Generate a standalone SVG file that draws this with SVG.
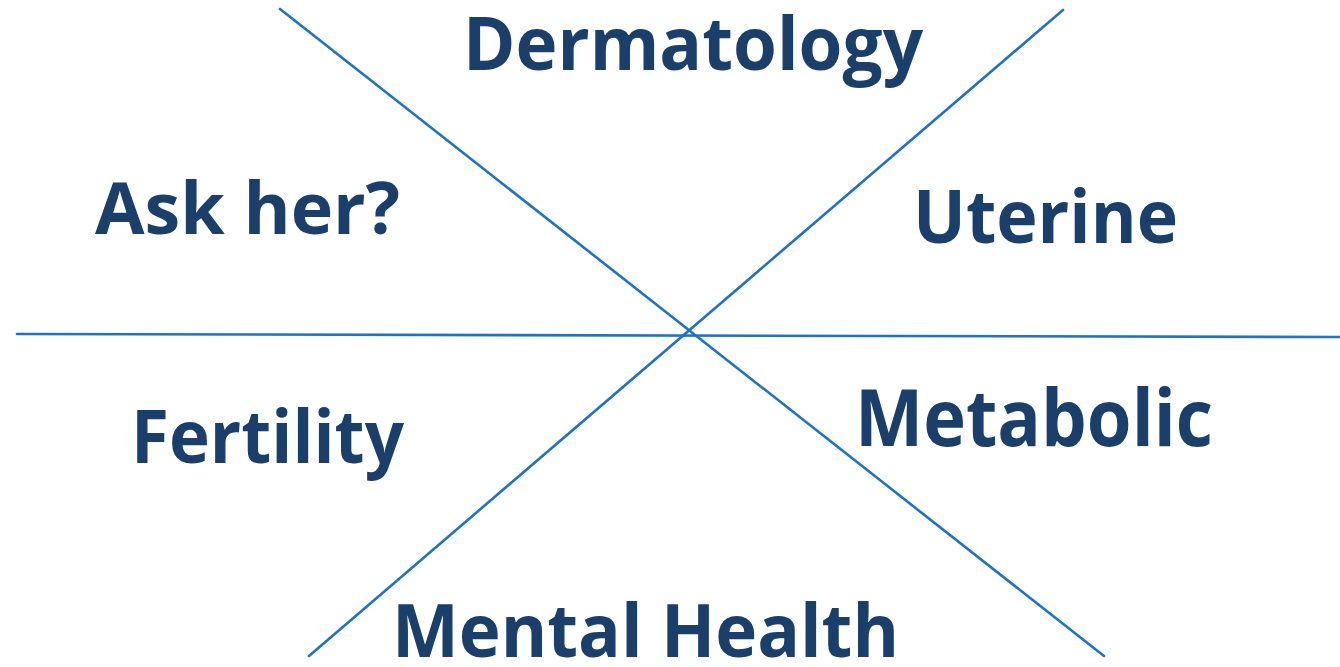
<svg xmlns="http://www.w3.org/2000/svg" width="1340" height="667" viewBox="0 0 1340 667">
  <style>
    .axis { stroke: #1F72C6; stroke-width: 2.6; fill: none; stroke-linecap: round; }
    .label { font-family: "Open Sans", "Liberation Sans", sans-serif; font-weight: 700; fill: #1A3F6B; }
  </style>
  <rect width="1340" height="667" fill="#FFFFFF"/>
  <!-- three dividing axes crossing near the centre -->
  <g id="connectors">
    <line class="axis" x1="280" y1="9" x2="1104" y2="656"/>
    <line class="axis" x1="1063" y1="10" x2="309" y2="656"/>
    <line class="axis" x1="17" y1="334" x2="1340" y2="337"/>
  </g>
  <g id="dermatology">
    <text class="label" x="463" y="70" font-size="73" textLength="460" lengthAdjust="spacingAndGlyphs">Dermatology</text>
  </g>
  <g id="ask-her">
    <text class="label" x="95" y="234" font-size="71" textLength="305" lengthAdjust="spacingAndGlyphs">Ask her?</text>
  </g>
  <g id="uterine">
    <text class="label" x="913" y="243" font-size="73" textLength="265" lengthAdjust="spacingAndGlyphs">Uterine</text>
  </g>
  <g id="fertility">
    <text class="label" x="131" y="463" font-size="73" textLength="273" lengthAdjust="spacingAndGlyphs">Fertility</text>
  </g>
  <g id="metabolic">
    <text class="label" x="855" y="446" font-size="78" textLength="358" lengthAdjust="spacingAndGlyphs">Metabolic</text>
  </g>
  <g id="mental-health">
    <text class="label" x="392" y="657" font-size="73" textLength="507" lengthAdjust="spacingAndGlyphs">Mental Health</text>
  </g>
</svg>
